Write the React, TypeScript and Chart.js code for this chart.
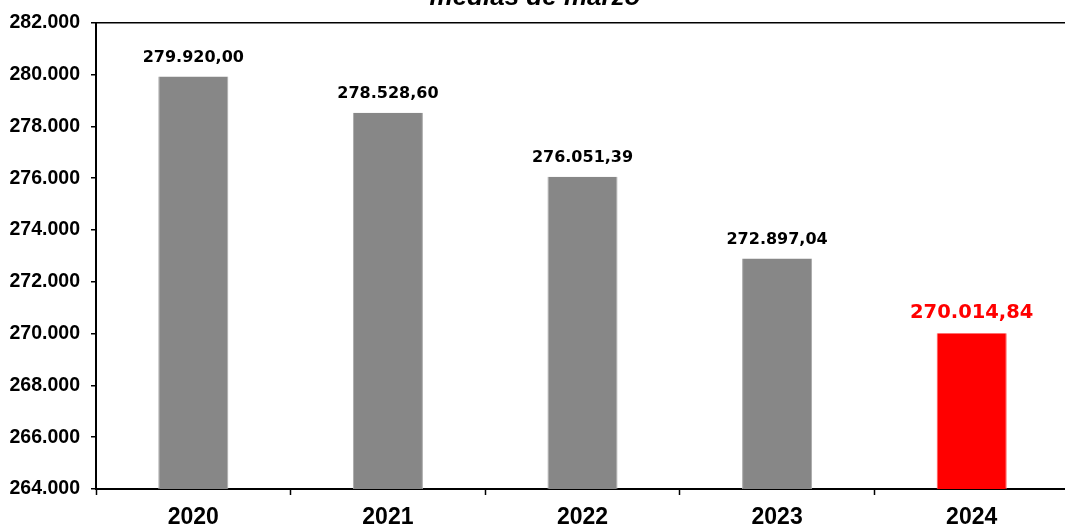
import React, { useEffect, useRef } from "react";
import { Chart, registerables } from "chart.js";

Chart.register(...registerables);

const categories = ["2020", "2021", "2022", "2023", "2024"];
const values = [279920.0, 278528.6, 276051.39, 272897.04, 270014.84];
const barColors = ["#878787", "#878787", "#878787", "#878787", "#FF0000"];
const barEdgeColors = ["#a9a9a9", "#a9a9a9", "#a9a9a9", "#a9a9a9", "#ff5a5a"];
const labelColors = ["#000000", "#000000", "#000000", "#000000", "#FF0000"];
const labelSizes = [16, 16, 16, 16, 19.5];
const yMin = 264000;
const yMax = 282000;
const yStep = 2000;
const titleText = "medias de marzo";

const AXIS_FONT = "'Liberation Sans', Arial, sans-serif";
const LABEL_FONT = "'DejaVu Sans', Verdana, sans-serif";

function fmt(v: number, dec: number): string {
  const fixed = v.toFixed(dec);
  const parts = fixed.split(".");
  const intS = parts[0].replace(/\B(?=(\d{3})+(?!\d))/g, ".");
  return parts[1] ? intS + "," + parts[1] : intS;
}

const dataLabelPlugin = {
  id: "dataLabelPlugin",
  afterDatasetsDraw(chart: any) {
    const ctx = chart.ctx;
    const meta = chart.getDatasetMeta(0);
    ctx.save();
    ctx.textAlign = "center";
    ctx.textBaseline = "alphabetic";
    meta.data.forEach((el: any, i: number) => {
      ctx.font = `bold ${labelSizes[i]}px ${LABEL_FONT}`;
      ctx.fillStyle = labelColors[i];
      ctx.fillText(fmt(values[i], 2), el.x, el.y - 15);
    });
    ctx.restore();
  },
};

const titlePlugin = {
  id: "titlePlugin",
  afterDraw(chart: any) {
    const ctx = chart.ctx;
    ctx.save();
    ctx.font = `italic bold 26px ${AXIS_FONT}`;
    ctx.fillStyle = "#000";
    ctx.textAlign = "center";
    ctx.textBaseline = "alphabetic";
    ctx.fillText(titleText, 535, 5);
    ctx.restore();
  },
};

export default function App() {
  const ref = useRef<HTMLCanvasElement | null>(null);

  useEffect(() => {
    if (!ref.current) return;
    const chart = new Chart(ref.current, {
      type: "bar",
      data: {
        labels: categories,
        datasets: [
          {
            data: values,
            backgroundColor: barColors,
            borderColor: barEdgeColors,
            borderWidth: { left: 1, right: 1, top: 0, bottom: 0 },
            borderSkipped: false,
            categoryPercentage: 1,
            barPercentage: 0.36,
          },
        ],
      },
      options: {
        responsive: false,
        animation: false,
        devicePixelRatio: 1,
        layout: { padding: { top: 19, right: 31, left: 0, bottom: 0 } },
        plugins: {
          legend: { display: false },
          title: { display: false },
          tooltip: { enabled: false },
        },
        scales: {
          x: {
            grid: {
              offset: true,
              drawOnChartArea: false,
              drawTicks: true,
              tickColor: "#000",
              tickLength: 6,
              tickWidth: 1.5,
            },
            border: { color: "#000", width: 2 },
            ticks: {
              color: "#000",
              padding: 9,
              font: { family: AXIS_FONT, size: 23, weight: "bold" },
            },
            afterFit: (s: any) => {
              s.height = 42;
            },
          },
          y: {
            min: yMin,
            max: yMax,
            ticks: {
              stepSize: yStep,
              color: "#000",
              padding: 11,
              font: { family: AXIS_FONT, size: 19.5, weight: "bold" },
              callback: (v: any) => fmt(Number(v), 0),
            },
            grid: {
              color: (c: any) =>
                c.tick && c.tick.value === yMax ? "#000" : "rgba(0,0,0,0)",
              lineWidth: 1.5,
              tickColor: "#000",
              tickLength: 5,
              tickWidth: 1.5,
            },
            border: { color: "#000", width: 2 },
            afterFit: (s: any) => {
              s.width = 96;
            },
          },
        },
      },
      plugins: [dataLabelPlugin, titlePlugin],
    });
    return () => chart.destroy();
  }, []);

  return (
    <div
      style={{
        position: "absolute",
        left: 0,
        top: 0,
        width: 1065,
        height: 531,
        overflow: "hidden",
        background: "#fff",
      }}
    >
      <canvas ref={ref} width={1100} height={531} style={{ display: "block" }} />
    </div>
  );
}
